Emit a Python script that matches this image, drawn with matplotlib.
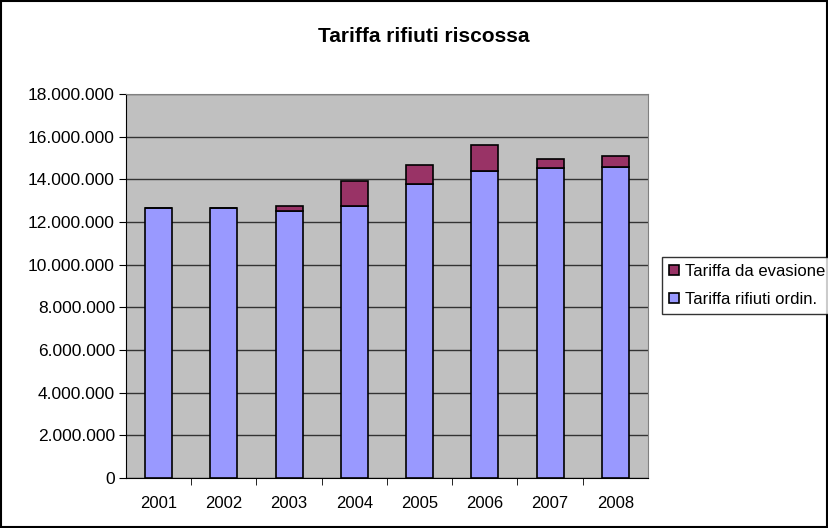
import matplotlib
matplotlib.use("Agg")
import matplotlib.pyplot as plt
from matplotlib.ticker import FuncFormatter, MultipleLocator
from matplotlib.patches import Rectangle

years = ["2001", "2002", "2003", "2004", "2005", "2006", "2007", "2008"]
ordinaria = [12660000, 12660000, 12520000, 12730000, 13760000, 14390000, 14520000, 14570000]
evasione = [0, 0, 210000, 1170000, 890000, 1220000, 440000, 530000]
series_names = ["Tariffa da evasione", "Tariffa rifiuti ordin."]
title = "Tariffa rifiuti riscossa"

plt.rcParams['font.family'] = ['Liberation Sans', 'DejaVu Sans']

fig = plt.figure(figsize=(8.29, 5.28), dpi=100)
fig.patches.append(Rectangle((0.001, 0.001), 0.997, 0.997, transform=fig.transFigure,
                             fill=False, edgecolor='black', linewidth=1.5))
ax = fig.add_axes([126/829, 1-478/528, (648-126)/829, (478-94)/528])
ax.set_facecolor('#C0C0C0')

x = list(range(len(years)))
b1 = ax.bar(x, ordinaria, width=0.41, color='#9999FF', edgecolor='black', linewidth=1.2, zorder=3,
            label=series_names[1])
b2 = ax.bar(x, evasione, width=0.41, bottom=ordinaria, color='#993366', edgecolor='black',
            linewidth=1.2, zorder=3, label=series_names[0])

ax.set_xlim(-0.5, len(years)-0.5)
ax.set_ylim(0, 18000000)
ax.yaxis.set_major_locator(MultipleLocator(2000000))
ax.yaxis.set_major_formatter(FuncFormatter(lambda v, p: f"{int(v):,}".replace(",", ".")))
ax.grid(axis='y', color='#333333', linewidth=1.0, zorder=1)
ax.set_xticks(x)
ax.set_xticklabels(years)
ax.set_xticks([i+0.5 for i in range(len(years)-1)], minor=True)
ax.tick_params(axis='x', which='major', length=0, labelsize=12, pad=13)
ax.tick_params(axis='x', which='minor', length=5, color='black')
ax.tick_params(axis='y', labelsize=12.5, length=5, pad=3)
for s in ['top', 'right']:
    ax.spines[s].set_color('#808080')
for s in ['left', 'bottom']:
    ax.spines[s].set_color('black')

fig.text(424/829, 1-37/528, title, ha='center', va='center', fontsize=15, fontweight='bold')

leg = fig.legend(handles=[b2, b1], labels=series_names, loc='upper left',
                 bbox_to_anchor=(662/829, 1-257/528), fontsize=12, frameon=True, fancybox=False,
                 edgecolor='black', handlelength=0.6, handleheight=0.6, handletextpad=0.4,
                 borderpad=0.4, labelspacing=0.8, borderaxespad=0)
leg.get_frame().set_linewidth(1.0)

fig.savefig("out.png", dpi=100)
